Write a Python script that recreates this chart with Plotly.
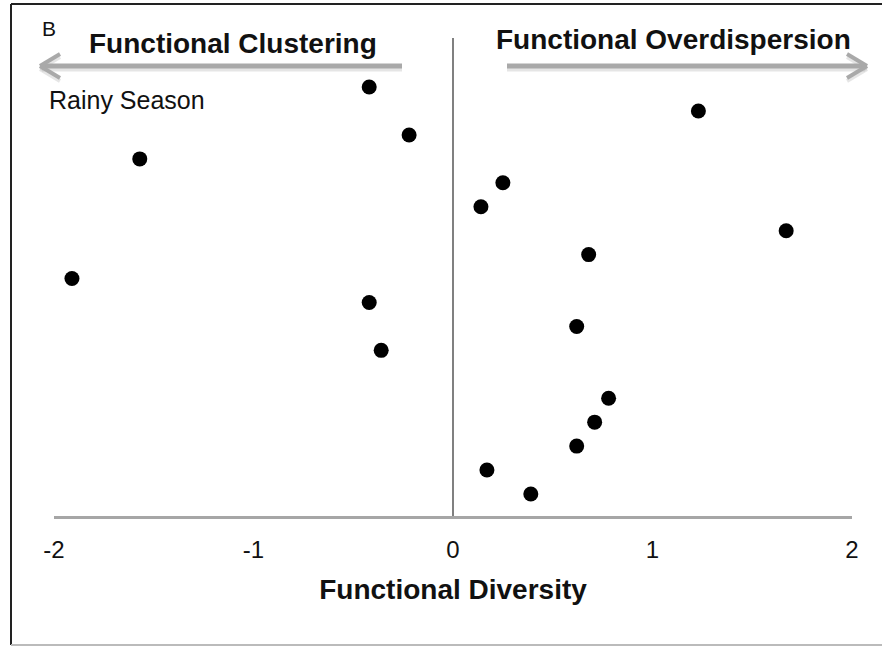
import plotly.graph_objects as go

# Data
functional_diversity = [-0.42, 1.23, -0.22, -1.57, 0.25, 0.14, 1.67, 0.68, -1.91,
                        -0.42, 0.62, -0.36, 0.78, 0.71, 0.62, 0.17, 0.39]
site_rank = [18, 17, 16, 15, 14, 13, 12, 11, 10, 9, 8, 7, 5, 4, 3, 2, 1]
x_ticks = [-2, -1, 0, 1, 2]
x_tick_labels = ["-2", "-1", "0", "1", "2"]

W, H = 882, 646
L, R, T, B = 54, 852, 38, 516  # plot area in pixels


def px(x):
    return (x - L) / (R - L)


def py(y):
    return (B - y) / (B - T)


FONT = "Liberation Sans, Arial, sans-serif"

fig = go.Figure()
fig.add_trace(go.Scatter(
    x=functional_diversity, y=site_rank, mode="markers",
    marker=dict(color="black", size=15, line=dict(width=0)),
    showlegend=False, hoverinfo="x+y",
))

shapes = []
# outer frame
shapes.append(dict(type="line", xref="paper", yref="paper",
                   x0=px(11), x1=px(11), y0=py(4), y1=py(645),
                   line=dict(color="#222222", width=2)))
shapes.append(dict(type="line", xref="paper", yref="paper",
                   x0=px(11), x1=px(882), y0=py(4), y1=py(4),
                   line=dict(color="#222222", width=2)))
shapes.append(dict(type="line", xref="paper", yref="paper",
                   x0=px(11), x1=px(882), y0=py(645), y1=py(645),
                   line=dict(color="#bbbbbb", width=2)))

ARROW = "#a9a9a9"
SHADOW = "rgba(0,0,0,0.10)"
ay = 66


def arrow(x_tail, x_tip, direction):
    out = []
    head = 20 * direction
    for dy, col in ((3, SHADOW), (0, ARROW)):
        out.append(dict(type="line", xref="paper", yref="paper",
                        x0=px(x_tail), x1=px(x_tip - direction * 2),
                        y0=py(ay + dy), y1=py(ay + dy),
                        line=dict(color=col, width=5)))
        for s in (-1, 1):
            out.append(dict(type="line", xref="paper", yref="paper",
                            x0=px(x_tip), x1=px(x_tip - head),
                            y0=py(ay + dy), y1=py(ay + dy + s * 12),
                            line=dict(color=col, width=4)))
    return out


shapes += arrow(402, 40, -1)
shapes += arrow(507, 867, 1)

annotations = [
    dict(text="B", x=px(49), y=py(28), xref="paper", yref="paper",
         showarrow=False, xanchor="center", yanchor="middle",
         font=dict(family=FONT, size=21, color="#111111")),
    dict(text="<b>Functional Clustering</b>", x=px(233), y=py(43),
         xref="paper", yref="paper", showarrow=False,
         xanchor="center", yanchor="middle",
         font=dict(family=FONT, size=28, color="#111111")),
    dict(text="<b>Functional Overdispersion</b>", x=px(673), y=py(40),
         xref="paper", yref="paper", showarrow=False,
         xanchor="center", yanchor="middle",
         font=dict(family=FONT, size=28, color="#111111")),
    dict(text="Rainy Season", x=px(47), y=py(100), xref="paper", yref="paper",
         showarrow=False, xanchor="left", yanchor="middle",
         font=dict(family=FONT, size=25, color="#111111")),
]

fig.update_layout(
    width=W, height=H,
    margin=dict(l=L, r=W - R, t=T, b=H - B, pad=0),
    paper_bgcolor="white", plot_bgcolor="white",
    shapes=shapes, annotations=annotations,
    xaxis=dict(range=[-2, 2], tickvals=x_ticks, ticktext=x_tick_labels,
               showgrid=False, zeroline=True, zerolinecolor="#808080",
               zerolinewidth=1.5, showline=True, linecolor="#a6a6a6",
               linewidth=3, ticks="", ticklabelstandoff=10,
               tickfont=dict(family=FONT, size=24, color="#111111"),
               title=dict(text="<b>Functional Diversity</b>", standoff=18,
                          font=dict(family=FONT, size=28, color="#111111"))),
    yaxis=dict(range=[0.08, 20.05], visible=False, showgrid=False,
               zeroline=False),
    font=dict(family=FONT),
)

fig.write_html("out.html",
               config=dict(displayModeBar=False),
               post_script="document.body.style.margin='0';"
                           "document.body.style.overflow='hidden';")
